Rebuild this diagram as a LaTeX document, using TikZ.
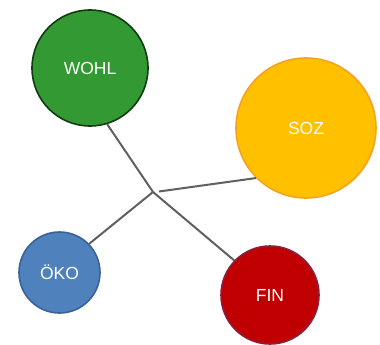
\documentclass[tikz,border=0pt]{standalone}
\usepackage{fontspec}
\setmainfont{Liberation Sans}
\usepackage{tikz}
\tikzset{pillar/.style = {circle, draw, line width = 1.6, inner sep = 0,
                          text = white, font = \fontsize{17.5}{17.5}\selectfont}}
\tikzset{link/.style = {draw = mgrey, line width = 2}}
\definecolor{mgrey}{RGB}{96, 96, 96}
\definecolor{mgreen}{RGB}{51, 153, 51}
\definecolor{mgreenline}{RGB}{18, 60, 18}
\definecolor{myellow}{RGB}{255, 192, 0}
\definecolor{myellowline}{RGB}{247, 162, 30}
\definecolor{mblue}{RGB}{79, 129, 189}
\definecolor{mblueline}{RGB}{58, 98, 150}
\definecolor{mred}{RGB}{192, 0, 0}
\definecolor{mredline}{RGB}{140, 30, 62}

\begin{document}
\begin{tikzpicture}[x=1pt, y=-1pt]
    \useasboundingbox (0, 0) rectangle (380, 345);

    \node [pillar, fill=mgreen, draw=mgreenline, minimum size=116] (wohl) at (90, 68) {WOHL};
    \node [pillar, fill=myellow, draw=myellowline, minimum size=140] (soz) at (306, 128) {SOZ};
    \node [pillar, fill=mblue, draw=mblueline, minimum size=81] (oeko) at (59.5, 272.5) {ÖKO};
    \node [pillar, fill=mred, draw=mredline, minimum size=98] (fin) at (270, 295) {FIN};

    \coordinate (mid) at (153, 192);
    \coordinate (midsoz) at (159, 191.5);

    \draw [link] (wohl.-73) -- (mid) -- (fin.136);
    \draw [link] (mid) -- (oeko.44);
    \draw [link] (midsoz) -- (soz.225);
  \end{tikzpicture}
\end{document}
